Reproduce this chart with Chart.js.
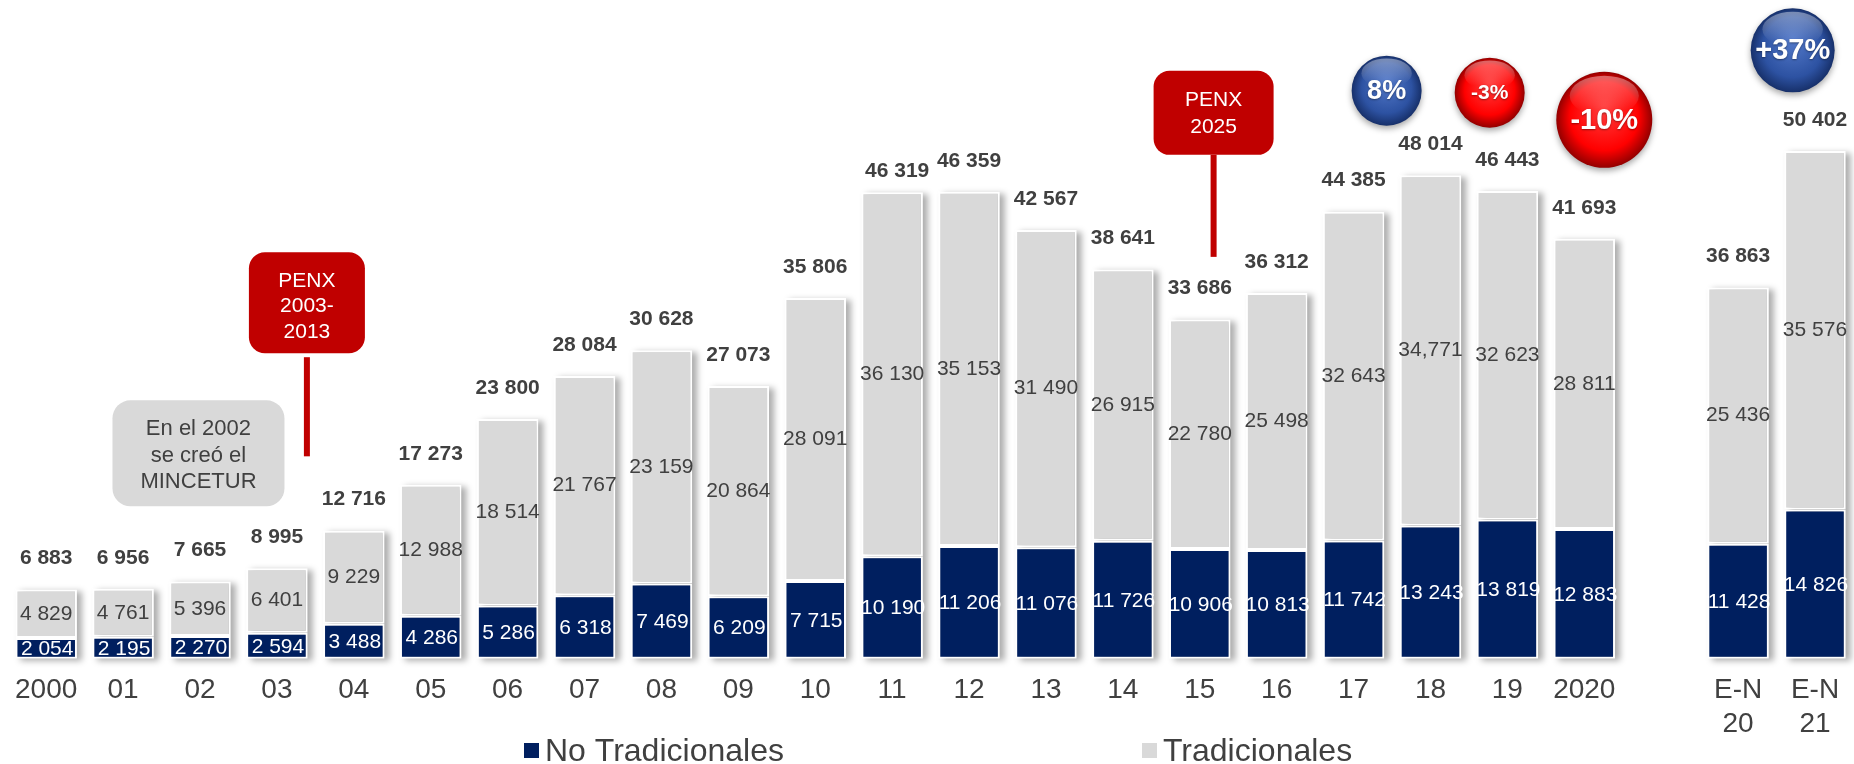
<!DOCTYPE html>
<html>
<head>
<meta charset="utf-8">
<script src="https://cdn.jsdelivr.net/npm/chart.js@4.4.1/dist/chart.umd.min.js"></script>
<style>
  html, body { margin: 0; padding: 0; background: #fff; }
  #wrap { width: 1854px; height: 764px; position: relative; }
</style>
</head>
<body>
<div id="wrap"><canvas id="chart"></canvas></div>
<script>
const FONT = "'Liberation Sans', Arial, sans-serif";
const GRIS_TXT = "#404040";
const AZUL = "#001F5F";
const GRIS = "#D9D9D9";

// Datos (millones US$)
const periodos = ["2000", "01", "02", "03", "04", "05", "06", "07", "08", "09", "10",
  "11", "12", "13", "14", "15", "16", "17", "18", "19", "2020", "", ["E-N", "20"], ["E-N", "21"]];
const noTradicionales = [2054, 2195, 2270, 2594, 3488, 4286, 5286, 6318, 7469, 6209, 7715,
  10190, 11206, 11076, 11726, 10906, 10813, 11742, 13243, 13819, 12883, null, 11428, 14826];
const tradicionales = [4829, 4761, 5396, 6401, 9229, 12988, 18514, 21767, 23159, 20864, 28091,
  36130, 35153, 31490, 26915, 22780, 25498, 32643, 34771, 32623, 28811, null, 25436, 35576];
const totales = [6883, 6956, 7665, 8995, 12716, 17273, 23800, 28084, 30628, 27073, 35806,
  46319, 46359, 42567, 38641, 33686, 36312, 44385, 48014, 46443, 41693, null, 36863, 50402];

// variaciones (globos)
const variaciones = ["8%", "-3%", "-10%", "+37%"];

function fmt(n) {
  return String(n).replace(/\B(?=(\d{3})+(?!\d))/g, " ");
}
const tradTexto = tradicionales.map(v => v == null ? "" : fmt(v));
tradTexto[18] = "34,771"; // asi aparece en el original

// Sombra de las barras
const sombraBarras = {
  id: "sombraBarras",
  beforeDatasetsDraw(chart) {
    const ctx = chart.ctx;
    const abajo = chart.getDatasetMeta(0).data;
    const arriba = chart.getDatasetMeta(1).data;
    ctx.save();
    ctx.filter = "blur(3px)";
    ctx.fillStyle = "rgba(0,0,0,0.32)";
    arriba.forEach((bar, i) => {
      if (totales[i] == null) return;
      const base = abajo[i].base;
      ctx.fillRect(bar.x - bar.width / 2 + 5, bar.y + 2, bar.width, base - bar.y);
    });
    ctx.restore();
  }
};

// Etiquetas de valores
const etiquetas = {
  id: "etiquetas",
  afterDatasetsDraw(chart) {
    const ctx = chart.ctx;
    const m0 = chart.getDatasetMeta(0).data;
    const m1 = chart.getDatasetMeta(1).data;
    ctx.save();
    ctx.textAlign = "center";
    ctx.textBaseline = "middle";
    m0.forEach((bar, i) => {
      if (noTradicionales[i] == null) return;
      ctx.font = "21px " + FONT;
      ctx.fillStyle = "#fff";
      ctx.fillText(fmt(noTradicionales[i]), bar.x + 1, (bar.y + bar.base) / 2 + 1);
      const b1 = m1[i];
      ctx.fillStyle = GRIS_TXT;
      ctx.fillText(tradTexto[i], b1.x, (b1.y + b1.base) / 2);
      ctx.font = "bold 21px " + FONT;
      let dx = 0, dy = 31;
      if (i === 11) { dx = 5; dy = 21; }
      ctx.fillText(fmt(totales[i]), b1.x + dx, b1.y - dy);
    });
    ctx.restore();
  }
};

function cajaRedonda(ctx, x, y, w, h, r, color) {
  ctx.beginPath();
  ctx.roundRect(x, y, w, h, r);
  ctx.fillStyle = color;
  ctx.fill();
}

function esfera(ctx, cx, cy, r, tonos, texto, size) {
  ctx.save();
  ctx.shadowColor = "rgba(0,0,0,0.35)";
  ctx.shadowBlur = 6;
  ctx.shadowOffsetY = 3;
  const g = ctx.createRadialGradient(cx, cy - r * 0.25, r * 0.05, cx, cy, r);
  g.addColorStop(0, tonos[0]);
  g.addColorStop(0.7, tonos[1]);
  g.addColorStop(1, tonos[2]);
  ctx.beginPath();
  ctx.arc(cx, cy, r, 0, Math.PI * 2);
  ctx.fillStyle = g;
  ctx.fill();
  ctx.restore();
  // brillo superior
  ctx.save();
  const h = ctx.createLinearGradient(0, cy - r, 0, cy - r * 0.2);
  h.addColorStop(0, "rgba(255,255,255,0.45)");
  h.addColorStop(1, "rgba(255,255,255,0)");
  ctx.beginPath();
  ctx.ellipse(cx, cy - r * 0.5, r * 0.72, r * 0.42, 0, 0, Math.PI * 2);
  ctx.fillStyle = h;
  ctx.fill();
  ctx.restore();
  ctx.save();
  ctx.font = "bold " + size + "px " + FONT;
  ctx.textAlign = "center";
  ctx.textBaseline = "middle";
  ctx.fillStyle = "#fff";
  ctx.shadowColor = "rgba(0,0,0,0.4)";
  ctx.shadowBlur = 2;
  ctx.shadowOffsetY = 1;
  ctx.fillText(texto, cx, cy + 1);
  ctx.restore();
}

// Notas, PENX y globos
const notas = {
  id: "notas",
  afterDraw(chart) {
    const ctx = chart.ctx;
    const xs = chart.scales.x;
    const ys = chart.scales.y;
    const px = v => xs.getPixelForValue(v);
    const py = v => ys.getPixelForValue(v);
    ctx.save();
    ctx.textAlign = "center";
    ctx.textBaseline = "middle";

    // En el 2002 se creo el MINCETUR
    let cx = px(1.98), cy = py(20400);
    cajaRedonda(ctx, cx - 86, cy - 53, 172, 106, 18, GRIS);
    ctx.fillStyle = GRIS_TXT;
    ctx.font = "22px " + FONT;
    ["En el 2002", "se creó el", "MINCETUR"].forEach((t, k) => ctx.fillText(t, cx, cy - 24 + k * 26.5));

    // PENX 2003-2013
    cx = px(3.39); cy = py(35400);
    cajaRedonda(ctx, cx - 58, cy - 50, 116, 101, 16, "#C00000");
    ctx.fillStyle = "#C00000";
    ctx.fillRect(cx - 3, cy + 55, 6, py(20100) - (cy + 55));
    ctx.fillStyle = "#fff";
    ctx.font = "21px " + FONT;
    ["PENX", "2003-", "2013"].forEach((t, k) => ctx.fillText(t, cx, cy - 21 + k * 25.5));

    // PENX 2025
    cx = px(15.18); cy = py(54200);
    cajaRedonda(ctx, cx - 60, cy - 42, 120, 84, 16, "#C00000");
    ctx.fillStyle = "#C00000";
    ctx.fillRect(cx - 3, cy + 42, 6, py(39900) - (cy + 42));
    ctx.fillStyle = "#fff";
    ctx.font = "21px " + FONT;
    ["PENX", "2025"].forEach((t, k) => ctx.fillText(t, cx, cy - 13 + k * 27));
    ctx.restore();

    const azul = ["#5278c8", "#2d52a2", "#17306a"];
    const rojo = ["#ff3b3b", "#ff0000", "#930000"];
    esfera(ctx, px(17.43), py(56400), 35, azul, variaciones[0], 27);
    esfera(ctx, px(18.77), py(56200), 35, rojo, variaciones[1], 21);
    esfera(ctx, px(20.26), py(53500), 48, rojo, variaciones[2], 29);
    esfera(ctx, px(22.71), py(60400), 42, azul, variaciones[3], 29);
  }
};

// Leyenda
const leyenda = {
  id: "leyenda",
  afterDraw(chart) {
    const ctx = chart.ctx;
    const pos = [524, 1142];
    ctx.save();
    ctx.font = "32px " + FONT;
    ctx.textBaseline = "middle";
    ctx.textAlign = "left";
    chart.data.datasets.forEach((ds, k) => {
      ctx.fillStyle = ds.backgroundColor;
      ctx.fillRect(pos[k], 743, 15, 15);
      ctx.fillStyle = GRIS_TXT;
      ctx.fillText(ds.label, pos[k] + 21, 752);
    });
    ctx.restore();
  }
};

new Chart(document.getElementById("chart"), {
  type: "bar",
  data: {
    labels: periodos,
    datasets: [
      {
        label: "No Tradicionales",
        data: noTradicionales,
        backgroundColor: AZUL,
        borderColor: "#fff",
        borderWidth: 2,
        borderSkipped: false
      },
      {
        label: "Tradicionales",
        data: tradicionales,
        backgroundColor: GRIS,
        borderColor: "#fff",
        borderWidth: 2,
        borderSkipped: false
      }
    ]
  },
  options: {
    responsive: true,
    maintainAspectRatio: false,
    animation: false,
    barPercentage: 0.8,
    categoryPercentage: 1.0,
    layout: { padding: { left: 3, right: 0, top: 0, bottom: 8 } },
    plugins: {
      legend: { display: false },
      tooltip: { enabled: false }
    },
    scales: {
      x: {
        stacked: true,
        grid: { display: false, drawTicks: false },
        border: { display: false },
        ticks: {
          autoSkip: false,
          maxRotation: 0,
          padding: 15,
          color: GRIS_TXT,
          font: { family: FONT, size: 28 }
        }
      },
      y: {
        stacked: true,
        display: false,
        min: 0,
        max: 65400
      }
    }
  },
  plugins: [sombraBarras, etiquetas, notas, leyenda]
});
</script>
</body>
</html>
